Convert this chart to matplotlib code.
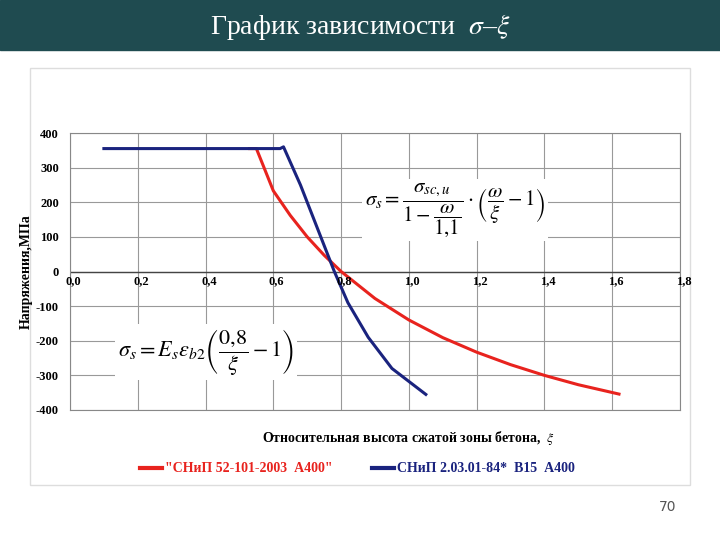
import matplotlib
matplotlib.use("Agg")
import matplotlib.pyplot as plt
from matplotlib.patches import Rectangle

plt.rcParams['font.family'] = ['Liberation Serif', 'DejaVu Serif']
plt.rcParams['mathtext.fontset'] = 'stix'

red_x = [0.53, 0.55, 0.6, 0.65, 0.7, 0.75, 0.8, 0.9, 1.0, 1.1, 1.2, 1.3, 1.4, 1.5, 1.62]
red_y = [355, 355, 233, 162, 100, 47, 0, -78, -140, -191, -233, -269, -300, -327, -354]
blue_x = [0.1, 0.62, 0.63, 0.68, 0.72, 0.76, 0.78, 0.82, 0.88, 0.95, 1.05]
blue_y = [355, 355, 360, 250, 150, 50, 0, -90, -190, -280, -355]
xticks = [0.0, 0.2, 0.4, 0.6, 0.8, 1.0, 1.2, 1.4, 1.6, 1.8]
xtick_labels = ['0,0', '0,2', '0,4', '0,6', '0,8', '1,0', '1,2', '1,4', '1,6', '1,8']
yticks = [-400, -300, -200, -100, 0, 100, 200, 300, 400]

fig = plt.figure(figsize=(7.2, 5.4), dpi=100)
fig.patch.set_facecolor('white')
fig.add_artist(Rectangle((0, 1 - 50/540), 1, 50/540, transform=fig.transFigure, color='#1f4b50', zorder=0))
fig.text(0.5, 1 - 27/540, 'График зависимости  $\\sigma$–$\\xi$', color='white', fontsize=20,
         ha='center', va='center')
fig.add_artist(Rectangle((30/720, 1 - 485/540), 660/720, 417/540, transform=fig.transFigure,
                         facecolor='white', edgecolor='#dddddd', zorder=0))

ax = fig.add_axes([70/720, 1 - 410/540, 610/720, 277/540])
ax.plot(red_x, red_y, color='#e8231e', lw=2.2, zorder=3)
ax.plot(blue_x, blue_y, color='#1a237e', lw=2.2, zorder=3)
ax.set_xlim(0, 1.8)
ax.set_ylim(-400, 400)
ax.set_yticks(yticks)
ax.set_yticklabels([str(v) for v in yticks], fontweight='bold', fontsize=9)
ax.set_xticks(xticks)
ax.set_xticklabels([])
for x, l in zip(xticks, xtick_labels):
    ax.text(x + 0.01, -12, l, ha='center', va='top', fontsize=9, fontweight='bold')
ax.grid(True, color='#999999', lw=0.8)
ax.axhline(0, color='#444444', lw=1)
ax.tick_params(length=0, pad=8)
for s in ax.spines.values():
    s.set_color('#888888')
ax.set_ylabel('Напряжения,МПа', fontweight='bold', fontsize=10, labelpad=2)
ax.text(1.0, -455, 'Относительная высота сжатой зоны бетона,  $\\xi$', ha='center', va='top',
        fontsize=10, fontweight='bold')

fig.text(365/720, 1 - 210/540,
         r'$\sigma_s=\dfrac{\sigma_{sc,u}}{1-\dfrac{\omega}{1{,}1}}\cdot\left(\dfrac{\omega}{\xi}-1\right)$',
         fontsize=15, va='center', ha='left',
         bbox=dict(facecolor='white', edgecolor='none', pad=2), zorder=5)
fig.text(118/720, 1 - 352/540,
         r'$\sigma_s=E_s\varepsilon_{b2}\left(\dfrac{0{,}8}{\xi}-1\right)$',
         fontsize=16, va='center', ha='left',
         bbox=dict(facecolor='white', edgecolor='none', pad=2), zorder=5)

fig.add_artist(plt.Line2D([140/720, 162/720], [1 - 468/540]*2, color='#e8231e', lw=3))
fig.text(165/720, 1 - 468/540, '"СНиП 52-101-2003  А400"', color='#e8231e', fontsize=10,
         fontweight='bold', va='center')
fig.add_artist(plt.Line2D([372/720, 394/720], [1 - 468/540]*2, color='#1a237e', lw=3))
fig.text(397/720, 1 - 468/540, 'СНиП 2.03.01-84*  В15  А400', color='#1a237e', fontsize=10,
         fontweight='bold', va='center')
fig.text(676/720, 1 - 507/540, '70', fontsize=10, color='#555555', ha='right', va='center',
         family='DejaVu Sans')

fig.savefig('out.png', dpi=100)
